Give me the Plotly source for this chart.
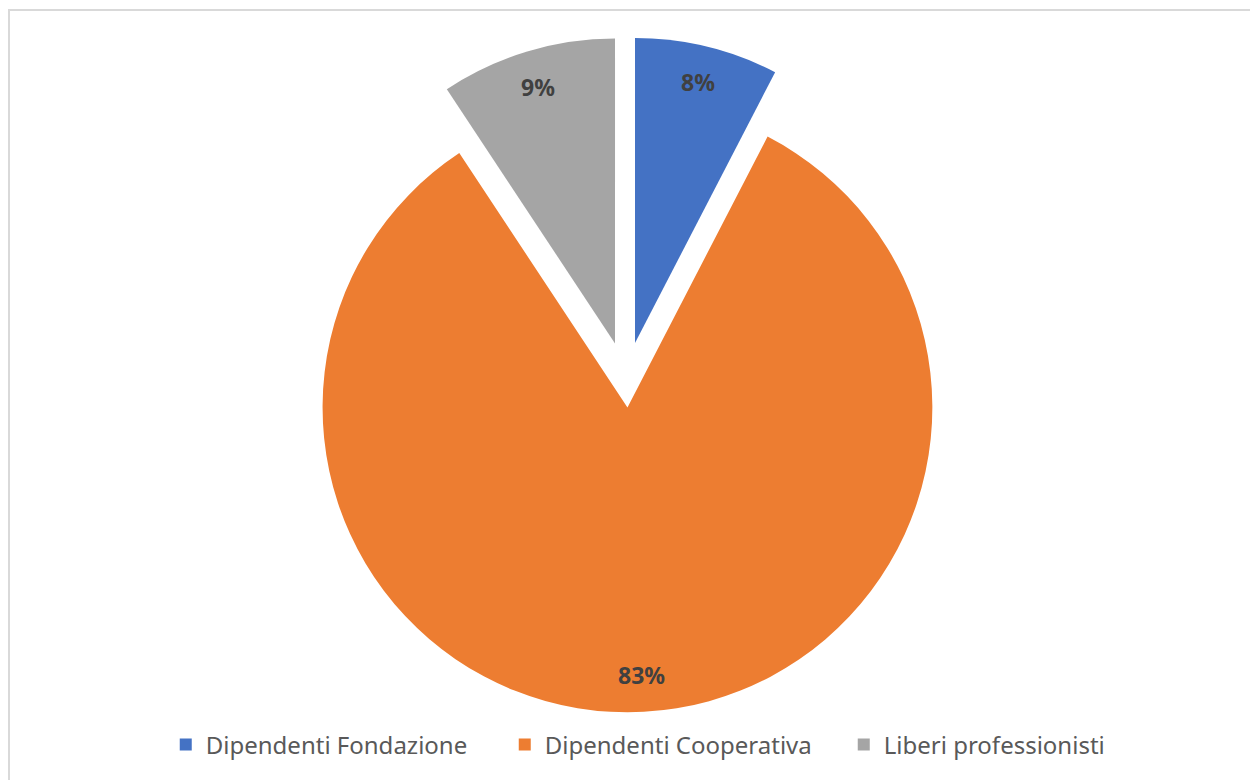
import math
import plotly.graph_objects as go

# ---- data ----
labels = ["Dipendenti Fondazione", "Dipendenti Cooperativa", "Liberi professionisti"]
values = [7.6, 83.1, 9.3]
colors = ["#4472C4", "#ED7D31", "#A5A5A5"]
pulls = [0.125, 0.09, 0.125]

# ---- layout geometry (figure px; page body adds 8px offset) ----
W, H = 1250, 772
mt, mb = 29, 57
ph = H - mt - mb
cx_px = 618
cy_px = mt + ph / 2
r = ph / (2 * (1 + max(pulls)))

fig = go.Figure(go.Pie(
    labels=labels, values=values, sort=False, direction="clockwise", rotation=0,
    pull=pulls, marker=dict(colors=colors, line=dict(width=0)),
    textinfo="none", hoverinfo="label+percent",
    domain=dict(x=[0, 2 * cx_px / W], y=[0, 1]),
))

# data labels placed from slice angles
total = sum(values)
cum = 0.0
for v, p in zip(values, pulls):
    mid = (cum + v / 2) / total * 2 * math.pi
    cum += v
    dx, dy = math.sin(mid), -math.cos(mid)
    rad = (p + 0.88) * r
    px = cx_px + rad * dx
    py = cy_px + rad * dy
    fig.add_annotation(
        x=px / W, y=(H - mb - py) / ph, xref="paper", yref="paper",
        xanchor="center", yanchor="middle",
        text=f"{round(v / total * 100)}%", showarrow=False,
        font=dict(family="Noto Sans", size=23, color="#404040", weight="bold"),
    )

# chart-area border (top and left visible)
fig.add_shape(type="rect", xref="paper", yref="paper",
              x0=1 / W, x1=1.05, y0=-0.2, y1=(H - mb - 2) / ph,
              line=dict(color="#D9D9D9", width=2), fillcolor="rgba(0,0,0,0)", layer="below")

fig.update_layout(
    width=W, height=H, autosize=False,
    margin=dict(l=0, r=0, t=mt, b=mb),
    paper_bgcolor="white", plot_bgcolor="white",
    showlegend=True,
    legend=dict(orientation="h", x=0.533, xanchor="center", y=(H - mb - 737) / ph, yanchor="middle",
                font=dict(family="Noto Sans", size=24, color="#595959"),
                entrywidth=294, itemwidth=30, traceorder="normal"),
)

fig.write_html("out.html")
